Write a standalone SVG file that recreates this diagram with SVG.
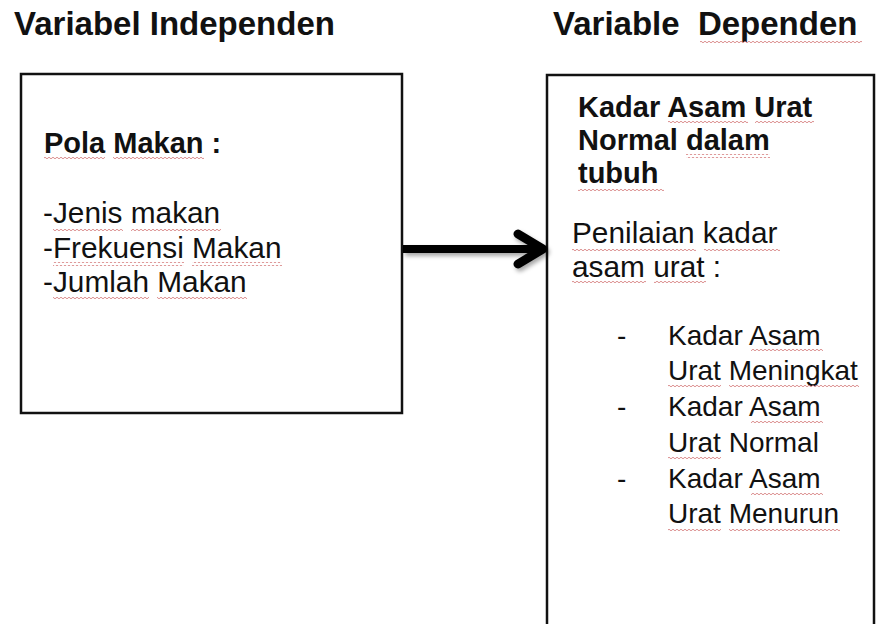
<svg xmlns="http://www.w3.org/2000/svg" width="876" height="624" viewBox="0 0 876 624">
<defs>
<style>
text{font-family:"Liberation Sans",Arial,sans-serif;fill:#111}
.title{font-size:33px;font-weight:bold}
.hb{font-size:29px;font-weight:bold}
.r30{font-size:29.8px}
.r28{font-size:28px}
.box{fill:#fff;stroke:#111;stroke-width:2.5}
.sq{fill:url(#wave)}
</style>
<pattern id="wave" patternUnits="userSpaceOnUse" x="0" y="0" width="4" height="4">
<path d="M0 2 Q1 0.4 2 2 T4 2" fill="none" stroke="#d27272" stroke-width="0.8"/>
</pattern>
<filter id="shadow" x="-10%" y="-50%" width="130%" height="200%">
<feDropShadow dx="2" dy="3" stdDeviation="2" flood-color="#000" flood-opacity="0.35"/>
</filter>
</defs>
<rect width="876" height="624" fill="#fff"/>

<g id="title-independen">
<text class="title" x="14" y="35">Variabel Independen</text>
</g>
<g id="title-dependen">
<text class="title" x="553" y="35" xml:space="preserve">Variable  Dependen</text>
<rect class="sq" x="700" y="39" width="162" height="4"/>
</g>

<g id="node-pola-makan">
<rect class="box" x="21" y="74" width="381" height="339"/>
<text class="hb" x="44" y="153">Pola Makan :</text>
<text class="r30" x="43" y="223">-Jenis makan</text>
<text class="r30" x="43" y="258">-Frekuensi Makan</text>
<text class="r30" x="43" y="292">-Jumlah Makan</text>
<rect class="sq" x="44" y="157" width="61" height="4"/>
<rect class="sq" x="113" y="157" width="91" height="4"/>
<rect class="sq" x="53" y="227" width="70" height="4"/>
<rect class="sq" x="131" y="227" width="90" height="4"/>
<rect class="sq" x="53" y="262" width="131" height="4"/>
<rect class="sq" x="192" y="262" width="90" height="4"/>
<rect class="sq" x="53" y="296" width="96" height="4"/>
<rect class="sq" x="157" y="296" width="90" height="4"/>
</g>

<g id="node-kadar-asam-urat">
<rect class="box" x="547" y="75" width="327" height="570"/>
<text class="hb" x="578" y="117">Kadar Asam Urat</text>
<text class="hb" x="578" y="150">Normal dalam</text>
<text class="hb" x="578" y="183">tubuh</text>
<rect class="sq" x="668" y="121" width="80" height="4"/>
<rect class="sq" x="755" y="121" width="59" height="4"/>
<rect class="sq" x="686" y="154" width="84" height="4"/>
<rect class="sq" x="578" y="187" width="86" height="4"/>
<text class="r30" x="572" y="243">Penilaian kadar</text>
<text class="r30" x="572" y="277">asam urat :</text>
<rect class="sq" x="572" y="247" width="124" height="4"/>
<rect class="sq" x="704" y="247" width="76" height="4"/>
<rect class="sq" x="572" y="281" width="74" height="4"/>
<rect class="sq" x="654" y="281" width="52" height="4"/>
<text class="r28" x="617" y="345">-</text>
<text class="r28" x="668" y="345">Kadar Asam</text>
<text class="r28" x="668" y="380">Urat Meningkat</text>
<text class="r28" x="617" y="416">-</text>
<text class="r28" x="668" y="416">Kadar Asam</text>
<text class="r28" x="668" y="452">Urat Normal</text>
<text class="r28" x="617" y="488">-</text>
<text class="r28" x="668" y="488">Kadar Asam</text>
<text class="r28" x="668" y="523">Urat Menurun</text>
<rect class="sq" x="751" y="349" width="72" height="4"/>
<rect class="sq" x="668" y="384" width="53" height="4"/>
<rect class="sq" x="729" y="384" width="130" height="4"/>
<rect class="sq" x="751" y="420" width="72" height="4"/>
<rect class="sq" x="668" y="456" width="53" height="4"/>
<rect class="sq" x="751" y="492" width="72" height="4"/>
<rect class="sq" x="668" y="527" width="53" height="4"/>
<rect class="sq" x="729" y="527" width="111" height="4"/>
</g>

<g id="connectors" filter="url(#shadow)">
<line x1="403" y1="249" x2="542" y2="249" stroke="#000" stroke-width="8"/>
<polyline points="518,234 543,249 518,264" fill="none" stroke="#000" stroke-width="9" stroke-linecap="round" stroke-linejoin="round"/>
</g>
</svg>
